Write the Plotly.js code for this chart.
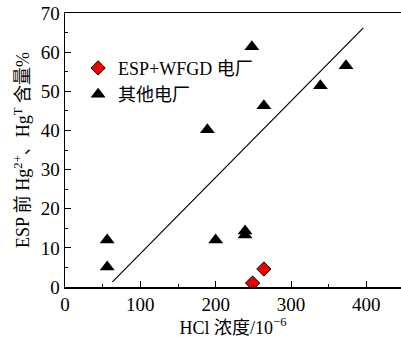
<!DOCTYPE html>
<html><head><meta charset="utf-8">
<script src="https://cdn.plot.ly/plotly-3.0.1.min.js"></script>
<style>body{margin:0;background:#fff}#c{width:401px;height:338px}</style>
</head><body><div id="c"></div>
<script>
const esp_x = [249, 264];
const esp_y = [1.0, 4.6];
const other_x = [56, 56, 189, 200, 239, 239, 248, 264, 339, 373];
const other_y = [12.0, 5.1, 40.2, 12.0, 14.3, 13.3, 61.4, 46.3, 51.4, 56.5];
const fit_x = [63, 396];
const fit_y = [1.3, 66.2];
const F = 'Liberation Serif, Times New Roman, Noto Sans CJK SC, serif';
const traces = [
  {x: fit_x, y: fit_y, mode:'lines', line:{color:'#000', width:1.2}, showlegend:false, hoverinfo:'skip'},
  {x: esp_x, y: esp_y, mode:'markers', name:'ESP+WFGD 电厂',
   marker:{symbol:'diamond', size:11, color:'#ee0000', line:{color:'#000', width:1}}},
  {x: other_x, y: other_y, mode:'markers', name:'其他电厂',
   marker:{symbol:'triangle-up', size:13, color:'#000'}}
];
const layout = {
  width:401, height:338,
  margin:{l:65, r:0, t:13, b:51},
  paper_bgcolor:'#fff', plot_bgcolor:'#fff',
  font:{family:F, size:19, color:'#000'},
  showlegend:true,
  legend:{x:0.039, y:0.866, xanchor:'left', yanchor:'top', bgcolor:'rgba(0,0,0,0)',
          font:{family:F, size:18}, itemwidth:30, tracegroupgap:0},
  xaxis:{range:[0,446], tickvals:[0,100,200,300,400], showgrid:false, zeroline:false,
         showline:true, linecolor:'#000', linewidth:1.5, mirror:true,
         ticks:'inside', ticklen:6, tickcolor:'#000',
         minor:{dtick:50, tick0:0, ticks:'inside', ticklen:3, tickcolor:'#000'},
         tickfont:{family:F, size:19},
         title:{text:'HCl 浓度/10<sup>−6</sup>', font:{family:F, size:18}, standoff:4}},
  yaxis:{range:[0,70], dtick:10, showgrid:false, zeroline:false,
         showline:true, linecolor:'#000', linewidth:1.5,
         ticks:'inside', ticklen:6, tickcolor:'#000',
         minor:{dtick:5, ticks:'inside', ticklen:3, tickcolor:'#000'},
         tickfont:{family:F, size:19},
         title:{text:'ESP 前 Hg<sup>2+</sup>、Hg<sup>T</sup> 含量%', font:{family:F, size:18}, standoff:6}}
};
Plotly.newPlot('c', traces, layout, {staticPlot:true});
</script></body></html>
